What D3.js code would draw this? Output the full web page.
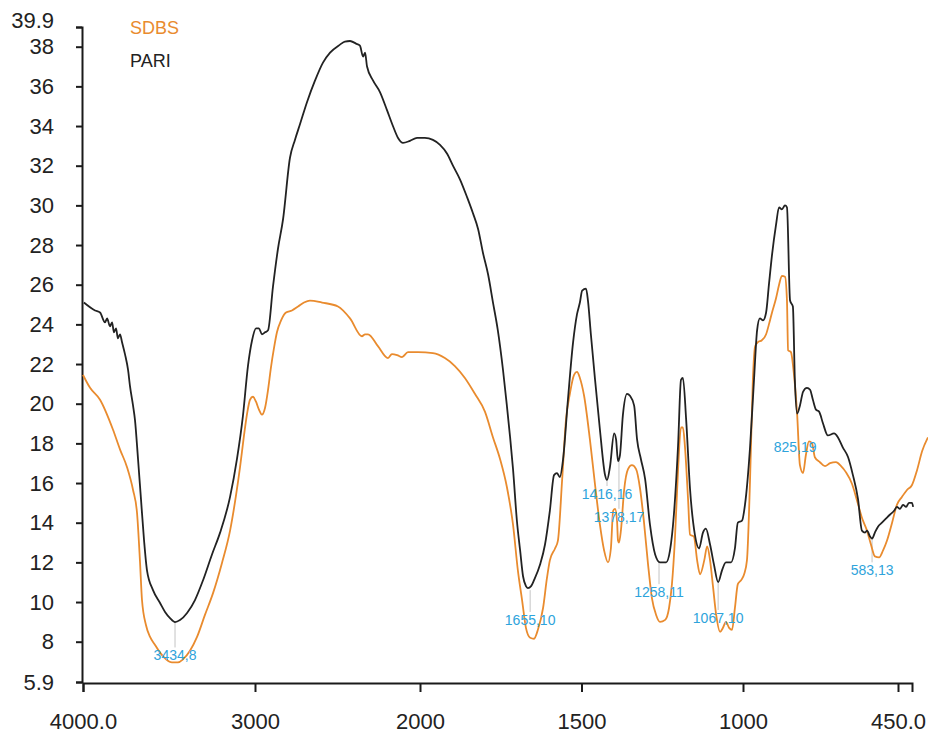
<!DOCTYPE html>
<html>
<head>
  <meta charset="utf-8">

  <script src="https://d3js.org/d3.v7.min.js"></script>

  <style media="screen">
    body {
      margin: 0;
      background: #ffffff;
    }

    svg {
      display: block;
      font-family: "Liberation Sans", Arial, sans-serif;
    }

    .axis path, .axis line {
      stroke: #1a1a1a;
      stroke-width: 2;
    }

    .axis text {
      fill: #222222;
      font-size: 22px;
    }

    .spectrum {
      fill: none;
      stroke-width: 1.8;
      stroke-linejoin: round;
    }

    .anno_line {
      stroke: #c4c4c4;
      stroke-width: 1;
    }

    .anno_label {
      fill: #2ea3db;
      font-size: 14px;
      text-anchor: middle;
    }

    .legend_label {
      font-size: 18px;
    }
  </style>

  <title>SDBS vs PARI</title>
</head>

<body>
  <svg></svg>

  <script type="text/javascript">
    // x tick values and labels
    const xTicks = [4000, 3000, 2000, 1500, 1000, 450]
    const xTickLabels = ["4000.0", "3000", "2000", "1500", "1000", "450.0"]

    const yTicks = [5.9, 8, 10, 12, 14, 16, 18, 20, 22, 24, 26, 28, 30, 32, 34, 36, 38, 39.9]
    const yTickLabels = ["5.9", "8", "10", "12", "14", "16", "18", "20", "22", "24", "26",
                         "28", "30", "32", "34", "36", "38", "39.9"]

    // PARI spectrum (black)
    const pariWn = [
      3995, 3930, 3901, 3872, 3860, 3843, 3831, 3820, 3808, 3797, 3785, 3773, 3756, 3738, 3727,
      3709, 3698, 3680, 3663, 3645, 3628, 3593, 3552, 3523, 3494, 3465, 3436, 3395, 3349, 3302,
      3250, 3203, 3145, 3105, 3070, 3041, 3017, 2994, 2976, 2958, 2939, 2921, 2891, 2861, 2830,
      2788, 2758, 2727, 2685, 2636, 2588, 2545, 2485, 2455, 2424, 2388, 2364, 2345, 2333, 2321,
      2285, 2242, 2200, 2164, 2133, 2103, 2061, 2018, 1985, 1960, 1938, 1916, 1898, 1876, 1854,
      1836, 1820, 1805, 1789, 1774, 1759, 1743, 1731, 1721, 1712, 1700, 1690, 1681, 1672, 1666,
      1656, 1647, 1628, 1613, 1598, 1585, 1576, 1567, 1557, 1542, 1526, 1514, 1505, 1498, 1486,
      1480, 1471, 1458, 1443, 1427, 1421, 1412, 1399, 1393, 1387, 1381, 1372, 1359, 1350, 1337,
      1328, 1316, 1303, 1288, 1272, 1257, 1238, 1226, 1214, 1201, 1192, 1186, 1176, 1164, 1149,
      1136, 1124, 1115, 1102, 1090, 1077, 1065, 1053, 1037, 1025, 1016, 1003, 993, 975, 961,
      950, 940, 929, 918, 908, 897, 883, 872, 862, 851, 844, 833, 823, 816, 808,
      798, 787, 773, 762, 752, 741, 730, 716, 699, 677, 663, 646, 627, 610, 592,
      578, 567, 560, 549, 542, 532, 521, 507, 493, 479, 464, 454, 443, 432, 421,
      411, 400, 396
    ]
    const pariT = [
      25.1, 24.7, 24.6, 24.1, 24.3, 23.9, 24.1, 23.6, 23.8, 23.3, 23.5, 23.1, 22.5, 21.7, 20.9,
      19.9, 19.2, 17.2, 15.2, 13.1, 11.6, 10.6, 9.95, 9.5, 9.19, 8.99, 9.09, 9.45, 10.1, 11.1,
      12.4, 13.5, 15.3, 17.2, 19.4, 21.9, 23.2, 23.8, 23.8, 23.5, 23.6, 23.7, 25.9, 27.8, 29.3,
      32.4, 33.3, 34.1, 35.2, 36.3, 37.2, 37.7, 38.2, 38.5, 38.55, 38.3, 38.1, 37.5, 37.7, 37.0,
      36.3, 35.7, 34.8, 34.0, 33.4, 33.15, 33.25, 33.4, 33.4, 33.3, 33.05, 32.6, 32.0, 31.3, 30.4,
      29.6, 28.8, 27.6, 26.5, 25.1, 23.7, 21.7, 19.9, 18.3, 16.7, 14.1, 12.6, 11.3, 10.8, 10.7,
      10.8, 11.1, 11.9, 12.9, 14.6, 16.4, 16.5, 16.3, 17.2, 20.2, 23.1, 24.5, 25.1, 25.7, 25.8,
      25.2, 23.5, 21.2, 18.7, 16.4, 16.15, 16.8, 18.5, 18.2, 17.1, 17.4, 19.4, 20.5, 20.4, 19.9,
      18.2, 17.2, 16.2, 13.9, 12.4, 12.0, 12.0, 12.6, 14.4, 17.9, 21.2, 21.3, 19.2, 15.7, 13.4,
      12.7, 13.5, 13.7, 12.9, 11.9, 11.0, 11.6, 12.0, 12.0, 12.7, 14.0, 14.1, 14.9, 17.8, 21.2,
      23.7, 24.3, 24.2, 24.6, 26.0, 27.5, 29.0, 29.9, 29.8, 30.0, 29.9, 25.2, 24.9, 21.2, 19.5,
      19.9, 20.6, 20.8, 20.7, 20.2, 19.7, 19.6, 19.0, 18.4, 18.5, 18.3, 17.8, 17.3, 16.4, 15.2,
      13.6, 13.5, 13.6, 13.3, 13.2, 13.5, 13.8, 14.0, 14.2, 14.4, 14.6, 14.8, 14.7, 14.9, 14.8,
      15.0, 15.0, 14.8
    ]

    // SDBS spectrum (orange)
    const sdbsWn = [
      4000, 3959, 3901, 3826, 3785, 3744, 3709, 3686, 3669, 3657, 3634, 3610, 3581, 3552, 3517,
      3483, 3448, 3419, 3378, 3337, 3291, 3244, 3192, 3145, 3110, 3087, 3064, 3046, 3029, 3012,
      2994, 2976, 2958, 2939, 2921, 2903, 2885, 2867, 2842, 2812, 2776, 2739, 2703, 2667, 2594,
      2497, 2424, 2352, 2333, 2315, 2255, 2194, 2170, 2139, 2109, 2073, 2012, 1960, 1923, 1892,
      1861, 1830, 1799, 1774, 1752, 1731, 1712, 1697, 1684, 1672, 1659, 1647, 1635, 1619, 1607,
      1598, 1582, 1573, 1560, 1548, 1536, 1523, 1514, 1505, 1492, 1474, 1458, 1443, 1430, 1418,
      1409, 1402, 1396, 1390, 1387, 1384, 1378, 1368, 1356, 1344, 1331, 1319, 1307, 1294, 1282,
      1269, 1257, 1241, 1229, 1220, 1211, 1201, 1192, 1186, 1180, 1170, 1164, 1152, 1142, 1133,
      1120, 1111, 1102, 1093, 1083, 1071, 1062, 1053, 1043, 1034, 1025, 1016, 1006, 996, 986,
      975, 965, 957, 947, 933, 918, 908, 897, 883, 872, 862, 851, 844, 840, 830,
      819, 808, 798, 787, 777, 766, 755, 745, 727, 709, 691, 670, 652, 635, 613,
      596, 578, 560, 546, 532, 517, 503, 489, 471, 454, 436, 418, 400, 382, 364,
      343
    ]
    const sdbsT = [
      21.45, 20.8, 20.2, 18.7, 17.7, 16.8, 15.65, 14.5, 12.1, 10.1, 8.84, 8.24, 7.83, 7.43, 7.08,
      6.92, 6.92, 7.08, 7.53, 8.24, 9.35, 10.45, 11.97, 13.6, 15.4, 16.8, 18.4, 19.5, 20.2, 20.35,
      20.1, 19.7, 19.45, 19.8, 20.7, 21.85, 22.8, 23.6, 24.2, 24.6, 24.7, 24.9, 25.1, 25.2, 25.1,
      24.9, 24.3, 23.4, 23.5, 23.5, 22.9, 22.3, 22.5, 22.45, 22.35, 22.6, 22.6, 22.55, 22.3, 21.9,
      21.3, 20.5, 19.6, 18.3, 17.2, 15.8, 13.9, 11.6, 10.1, 8.7, 8.2, 8.15, 8.6, 9.7, 11.2,
      12.1, 12.7, 13.1, 16.15, 19.2, 20.5, 21.45, 21.6, 21.3, 20.4, 18.2, 15.9, 13.9, 12.6, 12.0,
      12.7, 14.6, 14.7, 14.1, 13.1, 13.0, 13.6, 15.65, 16.7, 16.9, 16.7, 15.75, 14.1, 11.9, 10.2,
      9.35, 9.0, 9.1, 9.7, 10.9, 13.1, 16.7, 18.8, 18.8, 17.9, 15.15, 13.4, 13.3, 12.1, 11.4,
      12.1, 12.8, 12.1, 10.8, 9.35, 8.5, 8.7, 9.0, 8.7, 8.6, 9.7, 10.9, 11.1, 11.4, 12.1,
      16.15, 21.2, 22.9, 23.1, 23.2, 23.5, 24.0, 24.6, 25.3, 26.0, 26.45, 26.4, 25.2, 22.7, 22.6,
      21.45, 19.5, 16.9, 16.5, 17.4, 18.1, 18.0, 17.3, 17.05, 16.85, 17.0, 17.05, 16.85, 16.55, 15.95,
      15.15, 14.25, 13.6, 12.9, 12.3, 12.25, 12.6, 13.1, 14.0, 14.9, 15.3, 15.65, 15.9, 16.65, 17.6,
      18.3
    ]

    // peak annotations
    const annoText = ["3434,8", "1655,10", "1416,16", "1378,17", "1258,11", "1067,10", "825,19", "583,13"]
    const annoWn = [3465, 1659, 1421, 1384, 1260, 1077, 815, 542]
    const annoFrom = [8.99, 10.6, 16.1, 17.1, 12.0, 11.0, 18.2, 13.2]
    const annoTo = [7.7, 9.5, 15.85, 14.7, 10.9, 9.6, 18.2, 12.0]

    const legendNames = ["SDBS", "PARI"]
    const legendColors = ["#e98b2e", "#222222"]

    const width = 928
    const height = 733

    const svg = d3.select("svg")
      .attr("width", width)
      .attr("height", height)

    // the instrument axis is compressed in pieces
    const xScale = d3.scaleLinear()
      .domain([4000, 3000, 2000, 1000, 450, 400])
      .range([83, 255, 420, 743, 898, 912])

    const yScale = d3.scaleLinear()
      .domain([5.9, 8, 38, 39.9])
      .range([682, 641.7, 46.7, 27])

    const yAxis = svg.append("g")
      .attr("class", "axis")
      .attr("transform", "translate(82,0)")
      .call(d3.axisLeft(yScale)
        .tickValues(yTicks)
        .tickFormat((d, i) => yTickLabels[i])
        .tickSize(6)
        .tickSizeOuter(6)
        .tickPadding(22))

    yAxis.selectAll(".tick text")
      .filter(d => d === 39.9)
      .attr("y", -7)

    svg.append("g")
      .attr("class", "axis")
      .attr("transform", "translate(0,683)")
      .call(d3.axisBottom(xScale)
        .tickValues(xTicks)
        .tickFormat((d, i) => xTickLabels[i])
        .tickSize(9)
        .tickSizeOuter(9)
        .tickPadding(21))

    const annos = annoText.map((t, i) => ({
      text: t, wn: annoWn[i], from: annoFrom[i], to: annoTo[i]
    }))

    svg.selectAll(".anno_line")
      .data(annos.filter(d => d.from !== d.to))
      .enter()
      .append("line")
      .attr("class", "anno_line")
      .attr("x1", d => xScale(d.wn))
      .attr("x2", d => xScale(d.wn))
      .attr("y1", d => yScale(d.from))
      .attr("y2", d => yScale(d.to))

    const line = d3.line()
      .x(d => xScale(d[0]))
      .y(d => yScale(d[1]))
      .curve(d3.curveMonotoneX)

    svg.append("path")
      .attr("class", "spectrum")
      .attr("stroke", legendColors[0])
      .attr("d", line(d3.zip(sdbsWn, sdbsT)))

    svg.append("path")
      .attr("class", "spectrum")
      .attr("stroke", legendColors[1])
      .attr("d", line(d3.zip(pariWn, pariT)))

    svg.selectAll(".anno_label")
      .data(annos)
      .enter()
      .append("text")
      .attr("class", "anno_label")
      .attr("x", d => xScale(d.wn))
      .attr("y", d => yScale(d.to) + 13)
      .text(d => d.text)

    svg.selectAll(".legend_label")
      .data(legendNames)
      .enter()
      .append("text")
      .attr("class", "legend_label")
      .attr("x", 130)
      .attr("y", (d, i) => 34 + i * 33)
      .attr("fill", (d, i) => legendColors[i])
      .text(d => d)
  </script>
</body>
</html>
